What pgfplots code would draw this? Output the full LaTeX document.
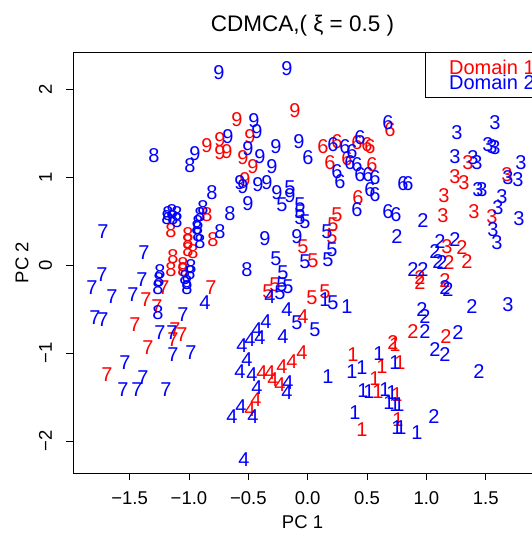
\documentclass[border=0pt]{standalone}
\usepackage{pgfplots}
\pgfplotsset{compat=1.18}
\usepackage{fontspec}
\setmainfont{Liberation Sans}
\definecolor{rred}{RGB}{255,0,0}
\definecolor{bblue}{RGB}{0,0,255}
\newcommand{\lab}{\fontsize{18.5}{20}\selectfont}
\newcommand{\pts}{\fontsize{20}{22}\selectfont}
\begin{document}
\begin{tikzpicture}
\begin{axis}[
  scale only axis, width=459pt, height=421pt,
  xmin=-1.977, xmax=1.890, ymin=-2.364, ymax=2.420,
  axis line style={line width=0.9pt},
  tick align=outside, major tick length=7pt,
  tick style={black, line width=0.8pt},
  xtick={-1.5,-1,-0.5,0,0.5,1,1.5},
  xticklabels={−1.5,−1.0,−0.5,0.0,0.5,1.0,1.5},
  ytick={-2,-1,0,1,2},
  yticklabels={−2,−1,0,1,2},
  xtick pos=bottom, ytick pos=left,
  ticklabel style={font=\lab},
  xticklabel style={anchor=center, yshift=-18pt},
  yticklabel style={xshift=-20.5pt, rotate=90, anchor=center},
  xlabel={PC 1}, ylabel={PC 2},
  xlabel style={at={(axis description cs:0.5,-0.1164)}, anchor=center, font=\lab},
  ylabel style={at={(axis description cs:-0.1111,0.5)}, anchor=center, font=\lab},
  title={CDMCA,( ξ = 0.5 )},
  title style={at={(axis description cs:0.5,1.0475)}, anchor=center, font=\fontsize{22.5}{24}\selectfont},
  clip=false,
  nodes near coords, nodes near coords align={center},
  point meta=explicit symbolic,
]
\addplot[only marks, mark=none, every node near coord/.append style={text=rred, font=\pts, inner sep=0pt}] table[meta=l] {
x y l
-0.107 1.750 9
-0.596 1.648 9
-0.486 1.455 9
-0.848 1.352 9
-0.739 1.420 9
-0.739 1.273 9
-0.680 1.284 9
-0.545 1.216 9
-0.461 1.114 9
-0.528 0.966 9
0.129 1.341 6
0.247 1.398 6
0.415 1.386 6
0.500 1.364 6
0.525 1.341 6
0.188 1.159 6
0.331 1.205 6
0.542 1.136 6
0.424 0.761 6
0.693 1.534 6
0.247 0.568 5
0.213 0.455 5
0.205 0.318 5
-0.040 0.205 5
0.045 0.045 5
-0.276 -0.227 5
-0.334 -0.307 5
0.036 -0.375 5
0.146 -0.307 5
-0.848 0.568 8
-1.152 0.386 8
-1.008 0.341 8
-1.008 0.261 8
-1.008 0.170 8
-0.966 0.148 8
-0.798 0.284 8
-1.135 0.091 8
-1.152 -0.057 8
-1.050 0.000 8
-1.050 -0.057 8
-1.211 -0.261 7
-0.815 -0.261 7
-1.362 -0.398 7
-1.270 -0.477 7
-1.455 -0.682 7
-1.118 -0.739 7
-1.059 -0.795 7
-1.135 -0.852 7
-1.345 -0.943 7
-1.691 -1.250 7
-0.040 -0.591 4
-0.048 -1.000 4
-0.132 -1.102 4
-0.217 -1.159 4
-0.385 -1.227 4
-0.318 -1.227 4
-0.292 -1.307 4
-0.233 -1.364 4
-0.436 -1.534 4
-0.486 -1.648 4
0.382 -1.023 1
0.567 -1.295 1
0.457 -1.875 1
0.735 -0.909 1
0.626 -1.159 1
0.778 -1.114 1
0.592 -1.443 1
0.752 -1.477 1
0.761 -1.761 1
1.300 0.193 2
1.190 0.023 2
1.342 0.034 2
0.946 -0.148 2
0.946 -0.205 2
1.157 -0.182 2
0.887 -0.761 2
1.165 -0.818 2
0.719 -0.886 2
1.350 1.159 3
1.241 1.000 3
1.317 0.932 3
1.679 1.023 3
1.148 0.784 3
1.401 0.602 3
1.553 0.545 3
1.140 0.557 3
1.174 0.205 3
};
\addplot[only marks, mark=none, every node near coord/.append style={text=bblue, font=\pts, inner sep=0pt}] table[meta=l] {
x y l
-0.747 2.182 9
-0.174 2.227 9
-0.949 1.261 9
-0.671 1.455 9
-0.452 1.636 9
-0.427 1.511 9
-0.503 1.318 9
-0.402 1.227 9
-0.267 1.341 9
-0.073 1.398 9
-0.301 1.114 9
-0.570 0.932 9
-0.545 0.886 9
-0.419 0.909 9
-0.343 0.932 9
-0.259 0.818 9
-0.149 0.784 9
-0.503 0.693 9
-0.360 0.295 9
-0.090 0.318 9
-1.295 1.239 8
-0.992 1.125 8
-0.806 0.818 8
-0.882 0.648 8
-0.907 0.568 8
-1.177 0.580 8
-1.143 0.602 8
-1.101 0.580 8
-1.185 0.534 8
-1.135 0.534 8
-1.101 0.500 8
-0.924 0.477 8
-0.933 0.420 8
-0.924 0.341 8
-0.907 0.261 8
-0.739 0.375 8
-0.655 0.580 8
-0.983 -0.023 8
-0.992 -0.091 8
-1.244 -0.080 8
-1.253 -0.170 8
-1.034 -0.148 8
-1.017 -0.205 8
-1.017 -0.261 8
-1.261 -0.261 8
-0.511 -0.057 8
-1.261 -0.545 8
0.003 1.216 6
0.213 1.364 6
0.314 1.341 6
0.441 1.443 6
0.373 1.284 6
0.247 1.057 6
0.272 0.943 6
0.356 1.159 6
0.415 1.136 6
0.441 1.023 6
0.508 1.023 6
0.567 0.989 6
0.525 0.852 6
0.567 0.795 6
0.415 0.625 6
0.677 0.602 6
0.744 0.568 6
0.677 1.614 6
0.803 0.920 6
0.845 0.920 6
-0.149 0.875 5
-0.217 0.682 5
-0.065 0.682 5
-0.065 0.602 5
-0.065 0.534 5
-0.023 0.489 5
0.163 0.375 5
0.205 0.170 5
0.171 0.057 5
-0.267 0.068 5
-0.023 0.034 5
-0.208 -0.091 5
-0.217 -0.227 5
-0.166 -0.250 5
-0.233 -0.318 5
0.213 -0.432 5
-0.090 -0.659 5
0.062 -0.739 5
-1.725 0.375 7
-1.379 0.136 7
-1.733 -0.114 7
-1.817 -0.261 7
-1.649 -0.364 7
-1.396 -0.170 7
-1.472 -0.341 7
-1.792 -0.602 7
-1.725 -0.625 7
-1.050 -0.568 7
-1.244 -0.773 7
-1.143 -0.773 7
-1.135 -1.023 7
-0.983 -1.000 7
-1.539 -1.114 7
-1.388 -1.284 7
-1.556 -1.420 7
-1.438 -1.420 7
-1.194 -1.420 7
-0.865 -0.432 4
-0.318 -0.364 4
-0.174 -0.511 4
-0.351 -0.648 4
-0.427 -0.739 4
-0.486 -0.852 4
-0.402 -0.830 4
-0.553 -0.920 4
-0.208 -0.818 4
-0.511 -1.080 4
-0.570 -1.216 4
-0.469 -1.250 4
-0.427 -1.398 4
-0.166 -1.341 4
-0.174 -1.455 4
-0.562 -1.614 4
-0.638 -1.727 4
-0.461 -1.727 4
-0.537 -2.216 4
0.146 -0.398 1
0.331 -0.477 1
0.171 -1.273 1
0.373 -1.216 1
0.457 -1.170 1
0.466 -1.432 1
0.516 -1.443 1
0.398 -1.682 1
0.601 -1.011 1
0.735 -1.114 1
0.651 -1.420 1
0.710 -1.455 1
0.685 -1.568 1
0.735 -1.591 1
0.769 -1.591 1
0.752 -1.852 1
0.786 -1.852 1
0.921 -1.909 1
0.752 0.318 2
1.115 0.261 2
1.241 0.284 2
1.072 0.148 2
1.098 0.034 2
1.132 0.023 2
0.887 -0.057 2
0.971 -0.057 2
1.157 -0.261 2
1.182 -0.284 2
1.384 -0.477 2
0.963 -0.511 2
0.988 -0.591 2
0.988 -0.761 2
1.266 -0.773 2
1.072 -0.966 2
1.157 -1.023 2
1.443 -1.216 2
1.064 -1.727 2
0.971 0.500 2
1.258 1.500 3
1.578 1.614 3
1.519 1.364 3
1.553 1.341 3
1.578 1.330 3
1.241 1.227 3
1.393 1.216 3
1.426 1.159 3
1.797 1.159 3
1.687 0.989 3
1.772 0.966 3
1.435 0.852 3
1.468 0.852 3
1.637 0.773 3
1.603 0.648 3
1.780 0.523 3
1.561 0.398 3
1.595 0.250 3
1.687 -0.455 3
};
\draw[line width=0.8pt] (axis cs:0.988,2.420) rectangle (axis cs:1.890,1.909);
\node[anchor=west, inner sep=0pt, text=rred, font=\pts] at (axis cs:1.190,2.244) {Domain 1};
\node[anchor=west, inner sep=0pt, text=bblue, font=\pts] at (axis cs:1.190,2.075) {Domain 2};
\end{axis}
\pgfresetboundingbox
\path[use as bounding box] (-73pt,-61pt) rectangle (458pt,473pt);
\end{tikzpicture}
\end{document}
